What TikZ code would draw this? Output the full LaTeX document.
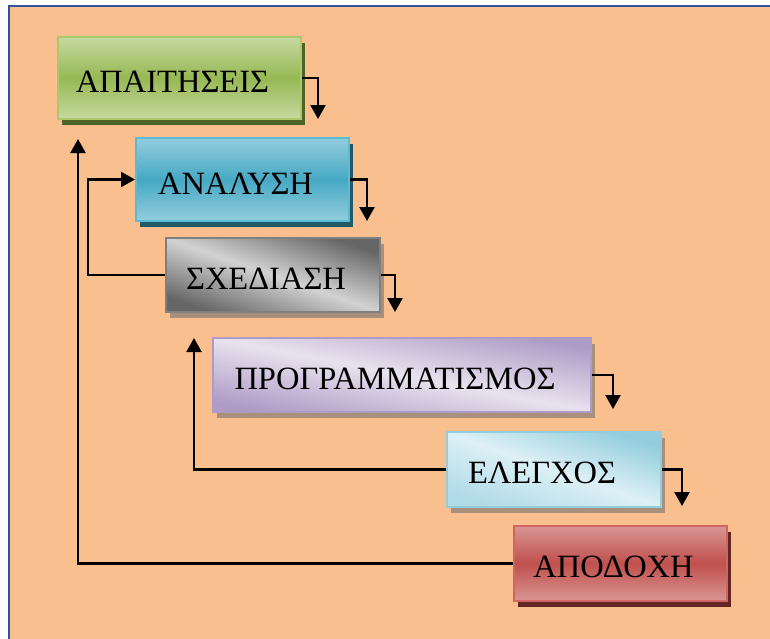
\documentclass[tikz,border=0pt]{standalone}
\usepackage{fontspec}
\setmainfont{Liberation Serif}
\usetikzlibrary{positioning}
\usetikzlibrary{shadows}
\usetikzlibrary{arrows.meta}
\usepackage{xcolor}
\definecolor{peach}{RGB}{249,191,143}
\definecolor{frameblue}{RGB}{47,85,151}
\definecolor{grnlight}{HTML}{C6D9A0}
\definecolor{grnmid}{HTML}{97B854}
\definecolor{grnline}{HTML}{A9C96C}
\definecolor{grnshade}{HTML}{4F6228}
\definecolor{blulight}{HTML}{93CDDD}
\definecolor{blumid}{HTML}{46A9C4}
\definecolor{bluline}{HTML}{5DBAD3}
\definecolor{blushade}{HTML}{215968}
\definecolor{grylight}{HTML}{D2D2D2}
\definecolor{grydark}{HTML}{666666}
\definecolor{gryline}{HTML}{7F7F7F}
\definecolor{lavlight}{HTML}{E8E2EE}
\definecolor{lavdark}{HTML}{AE9CC6}
\definecolor{cynlight}{HTML}{DDF0F6}
\definecolor{cyndark}{HTML}{93CDDD}
\definecolor{redlight}{HTML}{D99694}
\definecolor{redmid}{HTML}{C0504D}
\definecolor{redline}{HTML}{CF6663}
\definecolor{redshade}{HTML}{632523}
\definecolor{greyshade}{HTML}{A8907C}

\begin{document}
\begin{tikzpicture}[x=1pt,y=-1pt,on grid,
    box/.style={draw,line width=2pt,inner sep=0pt,text height=29pt,
                font=\fontsize{32.5}{36}\selectfont,execute at end node={\hspace*{14pt}}},
    flow/.style={line width=2.2pt,-{Triangle[length=14pt,width=15pt]}}]
        \useasboundingbox (0,0) rectangle (770,638);
        \clip (0,0) rectangle (770,638);
        \fill[peach] (9,6) rectangle (790,660);
        \draw[frameblue,line width=2.5pt] (9,660) -- (9,6) -- (790,6);
        \node[box,minimum width=243pt,minimum height=82pt,draw=grnline,
              top color=grnlight,bottom color=grnlight,middle color=grnmid,
              general shadow={fill=grnshade,shadow xshift=3.5pt,shadow yshift=-6pt}]
              (req) at (179.5,78) {ΑΠΑΙΤΗΣΕΙΣ};
        \node[box,minimum width=213pt,minimum height=83pt,draw=bluline,
              top color=blulight,bottom color=blulight,middle color=blumid,
              general shadow={fill=blushade,shadow xshift=3.5pt,shadow yshift=-6pt}]
              (ana) [below right=101.5pt and 63pt of req] {ΑΝΑΛΥΣΗ};
        \node[box,minimum width=214pt,minimum height=74pt,draw=gryline,
              top color=grydark,bottom color=grydark,middle color=grylight,shading angle=-19,
              general shadow={fill=greyshade,shadow xshift=3.5pt,shadow yshift=-6pt}]
              (des) [below right=95.5pt and 30.5pt of ana] {ΣΧΕΔΙΑΣΗ};
        \node[box,minimum width=378pt,minimum height=74pt,draw=lavdark,
              top color=lavdark,bottom color=lavdark,middle color=lavlight,shading angle=-11,
              general shadow={fill=greyshade,shadow xshift=3.5pt,shadow yshift=-6pt}]
              (prog) [below right=100pt and 129pt of des] {ΠΡΟΓΡΑΜΜΑΤΙΣΜΟΣ};
        \node[box,minimum width=214pt,minimum height=75pt,draw=cyndark,
              top color=cyndark,bottom color=cyndark!60!cynlight,middle color=cynlight,shading angle=-19,
              general shadow={fill=greyshade,shadow xshift=3.5pt,shadow yshift=-6pt}]
              (test) [below right=94.5pt and 152pt of prog] {ΕΛΕΓΧΟΣ\hspace*{10pt}};
        \node[box,minimum width=213pt,minimum height=75pt,draw=redline,
              top color=redlight,bottom color=redlight,middle color=redmid,
              general shadow={fill=redshade,shadow xshift=3.5pt,shadow yshift=-6pt}]
              (acc) [below right=94pt and 66.5pt of test] {ΑΠΟΔΟΧΗ};
        % steps down
        \coordinate (reqd) at (318,119);
        \coordinate (anad) at (367,221);
        \coordinate (desd) at (395,312);
        \coordinate (progd) at (613,409);
        \coordinate (testd) at (682,506);
        \draw[flow] (req.east) -| (reqd);
        \draw[flow] (ana.east) -| (anad);
        \draw[flow] (des.east) -| (desd);
        \draw[flow] (prog.east) -| (progd);
        \draw[flow] (test.east) -| (testd);
        % going back
        \coordinate (accup) at (78,139);
        \coordinate (testup) at (194,338);
        \coordinate (desbk) at (88,180);
        \draw[flow] (acc.west) -| (accup);
        \draw[flow] (test.west) -| (testup);
        \draw[flow] (des.west) -| (desbk |- ana.west) -- (ana.west);
      \end{tikzpicture}
\end{document}
